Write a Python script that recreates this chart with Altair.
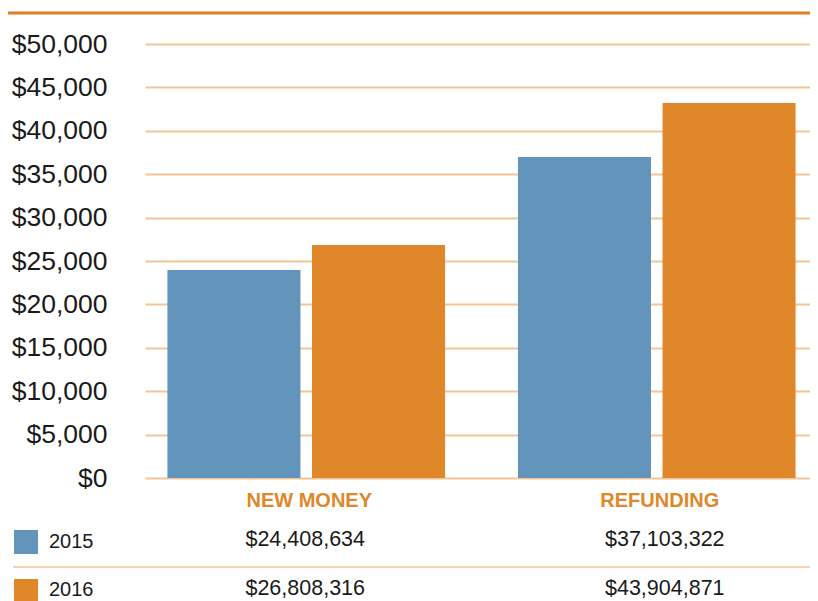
import altair as alt
import pandas as pd

categories = ["NEW  MONEY", "REFUNDING"]
years = ["2015", "2016"]
values_2015 = [23960, 36980]
values_2016 = [26840, 43200]
table_2015 = ["$24,408,634", "$37,103,322"]
table_2016 = ["$26,808,316", "$43,904,871"]
y_ticks = [0, 5000, 10000, 15000, 20000, 25000, 30000, 35000, 40000, 45000, 50000]
colors = ["#6394BC", "#E0872A"]

FONT = "Liberation Sans"
ORANGE = "#E0872A"
GRID = "#F2C596"
TEXT = "#1a1a1a"

rows = []
for i, c in enumerate(categories):
    rows.append({"category": c, "year": years[0], "value": values_2015[i], "label": table_2015[i]})
    rows.append({"category": c, "year": years[1], "value": values_2016[i], "label": table_2016[i]})
df = pd.DataFrame(rows)
one = pd.DataFrame({"k": [0]})

x_scale = alt.Scale(domain=categories, paddingInner=0.08, paddingOuter=0)
color_scale = alt.Scale(domain=years, range=colors)

base = alt.Chart(df)

bars = base.mark_bar().encode(
    x=alt.X("category:N", scale=x_scale, sort=categories,
            axis=alt.Axis(title=None, labelColor=ORANGE, labelFont=FONT, labelFontWeight="bold",
                          labelFontSize=20, labelPadding=12, ticks=False, tickSize=0, domain=False,
                          labelAngle=0, labelOffset=3, grid=False)),
    xOffset=alt.XOffset("year:N", scale=alt.Scale(domain=years, paddingInner=0.08, paddingOuter=0.155)),
    y=alt.Y("value:Q", scale=alt.Scale(domain=[0, 50000], nice=False),
            axis=alt.Axis(title=None, values=y_ticks, format="$,.0f", labelFont=FONT, labelFontSize=26.5,
                          labelPadding=38, ticks=False, domain=False, gridColor=GRID, gridWidth=2,
                          gridOpacity=1, labelColor=TEXT)),
    color=alt.Color("year:N", scale=color_scale, legend=None),
)

cell_dx = [-1, 8]

def table_cell(year, ci, ypix):
    return base.transform_filter(
        (alt.datum.year == year) & (alt.datum.category == categories[ci])
    ).mark_text(
        font=FONT, fontSize=21.5, color=TEXT, baseline="middle", align="center", dx=cell_dx[ci]
    ).encode(
        x=alt.X("category:N", scale=x_scale, sort=categories),
        y=alt.value(ypix),
        text="label:N",
    )

def legend_box(year, ytop, ytext):
    d = pd.DataFrame({"year": [year]})
    box = alt.Chart(d).mark_rect().encode(
        x=alt.value(-131), x2=alt.value(-107), y=alt.value(ytop), y2=alt.value(ytop + 24),
        color=alt.Color("year:N", scale=color_scale, legend=None),
    )
    txt = alt.Chart(d).mark_text(font=FONT, fontSize=20, color=TEXT, align="left", baseline="middle").encode(
        x=alt.value(-96), y=alt.value(ytext), text="year:N"
    )
    return box + txt

sep = alt.Chart(one).mark_rule(color="#F6D3AE", strokeWidth=2).encode(
    x=alt.value(-132), x2=alt.value(673), y=alt.value(523)
)
top_rule = alt.Chart(one).mark_rule(color="#E07F22", strokeWidth=3).encode(
    x=alt.value(-137), x2=alt.value(673), y=alt.value(-31)
)

chart = alt.layer(
    bars,
    table_cell("2015", 0, 496),
    table_cell("2015", 1, 496),
    table_cell("2016", 0, 545),
    table_cell("2016", 1, 545),
    legend_box("2015", 486, 498),
    legend_box("2016", 535, 546),
    sep,
    top_rule,
).properties(
    width=673,
    height=434,
    autosize=alt.AutoSizeParams(type="none"),
    padding={"left": 137, "top": 36, "right": -8, "bottom": 125},
    background="white",
).configure_view(stroke=None)

chart.save("out.html", embed_options={"renderer": "svg", "actions": False})
